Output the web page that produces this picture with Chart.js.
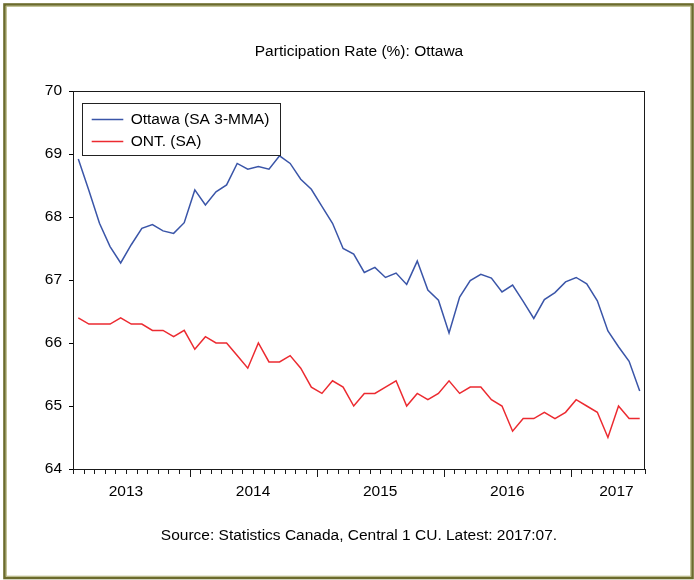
<!DOCTYPE html>
<html>
<head>
<meta charset="utf-8">
<script src="https://cdn.jsdelivr.net/npm/chart.js@4/dist/chart.umd.min.js"></script>
<style>
html,body{margin:0;padding:0;background:#fff;}
canvas{display:block;}
</style>
</head>
<body>
<canvas id="c" width="694" height="580"></canvas>
<script>
// ---- data (monthly, 2013:02 .. 2017:07) ----
const startYear = 2013, startMonth = 2;
const months = [];
for (let i = 0; i < 54; i++) {
  const m = startMonth - 1 + i;
  months.push((startYear + Math.floor(m / 12)) + ':' + String(m % 12 + 1).padStart(2, '0'));
}
const ottawa = [68.92, 68.42, 67.90, 67.53, 67.27, 67.56, 67.82, 67.88, 67.78, 67.74,
  67.91, 68.43, 68.19, 68.40, 68.51, 68.85, 68.76, 68.80, 68.76, 68.97,
  68.85, 68.60, 68.44, 68.17, 67.90, 67.50, 67.41, 67.12, 67.20, 67.04,
  67.11, 66.93, 67.30, 66.84, 66.68, 66.16, 66.73, 66.99, 67.09, 67.03,
  66.81, 66.92, 66.66, 66.39, 66.69, 66.80, 66.97, 67.04, 66.94, 66.67,
  66.19, 65.94, 65.71, 65.24];
const ont = [66.4, 66.3, 66.3, 66.3, 66.4, 66.3, 66.3, 66.2, 66.2, 66.1,
  66.2, 65.9, 66.1, 66.0, 66.0, 65.8, 65.6, 66.0, 65.7, 65.7,
  65.8, 65.6, 65.3, 65.2, 65.4, 65.3, 65.0, 65.2, 65.2, 65.3,
  65.4, 65.0, 65.2, 65.1, 65.2, 65.4, 65.2, 65.3, 65.3, 65.1,
  65.0, 64.6, 64.8, 64.8, 64.9, 64.8, 64.9, 65.1, 65.0, 64.9,
  64.5, 65.0, 64.8, 64.8];
const yearLabels = ['2013', '2014', '2015', '2016', '2017'];
const seriesNames = ['Ottawa (SA 3-MMA)', 'ONT. (SA)'];
const titleText = 'Participation Rate (%): Ottawa';
const sourceText = 'Source: Statistics Canada, Central 1 CU. Latest: 2017:07.';

const FONT = "'Liberation Sans', Arial, sans-serif";
const FS = 15.5;
const N = months.length;

const toXY = arr => arr.map((v, i) => ({ x: i + 0.5, y: v }));

const framePlugin = {
  id: 'frame',
  beforeDraw(chart) {
    const ctx = chart.ctx;
    ctx.save();
    ctx.fillStyle = '#fff';
    ctx.fillRect(0, 0, chart.width, chart.height);
    ctx.strokeStyle = '#6b6b2c';
    ctx.lineWidth = 2.6;
    ctx.strokeRect(4.5, 4.5, 688, 573.5);
    ctx.strokeStyle = '#b4b47e';
    ctx.lineWidth = 1;
    ctx.strokeRect(6.3, 6.3, 684.4, 569.9);
    ctx.restore();
  },
  afterDraw(chart) {
    const ctx = chart.ctx;
    const a = chart.chartArea;
    const xs = chart.scales.x;
    ctx.save();
    // plot frame
    ctx.strokeStyle = '#1a1a1a';
    ctx.lineWidth = 1;
    ctx.strokeRect(Math.round(a.left) + 0.5, Math.round(a.top) + 0.5,
      Math.round(a.right - a.left) - 1, Math.round(a.bottom - a.top));
    // month tick marks
    ctx.beginPath();
    for (let i = 0; i <= N; i++) {
      const px = Math.round(xs.getPixelForValue(i)) + 0.5;
      const isJan = ((startMonth - 1 + i) % 12) === 0;
      ctx.moveTo(px, a.bottom);
      ctx.lineTo(px, a.bottom + (isJan ? 8 : 5));
    }
    ctx.stroke();
    // legend box
    const lx = a.left + 9.3, ly = a.top + 12.3, lw = 197.7, lh = 51.7;
    ctx.fillStyle = '#fff';
    ctx.fillRect(lx, ly, lw, lh);
    ctx.strokeStyle = '#222';
    ctx.strokeRect(Math.round(lx) + 0.5, Math.round(ly) + 0.5, Math.round(lw), Math.round(lh));
    ctx.font = FS + 'px ' + FONT;
    ctx.textBaseline = 'middle';
    ctx.textAlign = 'left';
    chart.data.datasets.forEach((ds, k) => {
      const yy = Math.round(a.top + 28 + k * 22) + 0.5;
      ctx.strokeStyle = ds.borderColor;
      ctx.lineWidth = 1.4;
      ctx.beginPath();
      ctx.moveTo(a.left + 18.7, yy);
      ctx.lineTo(a.left + 50.3, yy);
      ctx.stroke();
      ctx.fillStyle = '#000';
      ctx.fillText(ds.label, a.left + 57.7, yy);
    });
    ctx.restore();
  }
};

new Chart(document.getElementById('c'), {
  type: 'line',
  data: {
    datasets: [
      { label: seriesNames[0], data: toXY(ottawa), borderColor: '#3a55a8', borderWidth: 1.5, pointRadius: 0, tension: 0, fill: false },
      { label: seriesNames[1], data: toXY(ont), borderColor: '#ec2a30', borderWidth: 1.5, pointRadius: 0, tension: 0, fill: false }
    ]
  },
  options: {
    responsive: false,
    animation: false,
    devicePixelRatio: 1,
    layout: { padding: { left: 10, right: 49, top: 10, bottom: 10 } },
    plugins: {
      legend: { display: false },
      tooltip: { enabled: false },
      title: {
        display: true, text: titleText, fullSize: false,
        color: '#000', font: { family: FONT, size: FS, weight: 'normal' },
        padding: { top: 32.7, bottom: 29.7 }
      },
      subtitle: {
        display: true, text: sourceText, position: 'bottom', fullSize: false,
        color: '#000', font: { family: FONT, size: FS, weight: 'normal' },
        padding: { top: 17.7, bottom: 24.7 }
      }
    },
    scales: {
      x: {
        type: 'linear', min: 0, max: N,
        grid: { display: false, drawTicks: false },
        border: { display: false },
        afterFit(s) { s.height = 40; },
        afterBuildTicks(s) {
          s.ticks = yearLabels.map((y, k) => ({ value: Math.min(k * 12 + 5, N - 2.7) }));
        },
        ticks: {
          autoSkip: false, maxRotation: 0, minRotation: 0, padding: 13,
          color: '#000', font: { family: FONT, size: FS },
          callback: (v, i) => yearLabels[i]
        }
      },
      y: {
        min: 64, max: 70,
        grid: { drawOnChartArea: false, drawTicks: true, tickLength: 4, color: '#000' },
        border: { display: false },
        afterFit(s) { s.width = 63; },
        ticks: { stepSize: 1, padding: 7, color: '#000', font: { family: FONT, size: FS } }
      }
    }
  },
  plugins: [framePlugin]
});
</script>
</body>
</html>
